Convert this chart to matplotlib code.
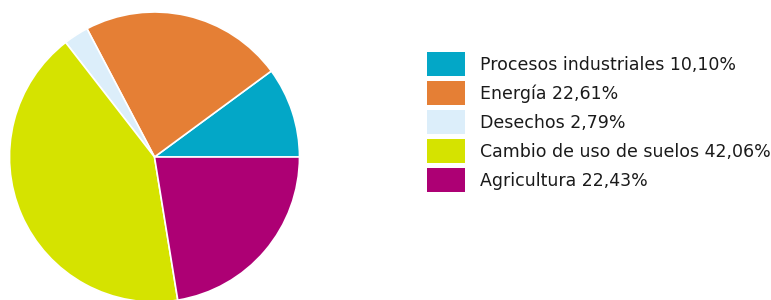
import matplotlib.pyplot as plt
from matplotlib.patches import Patch

# data
labels = ["Procesos industriales", "Energía", "Desechos",
          "Cambio de uso de suelos", "Agricultura"]
shares = [10.10, 22.61, 2.79, 42.06, 22.43]
colors = ["#03A7C7", "#E57F35", "#DCEEFA", "#D5E300", "#AD0074"]

W, H = 771, 300
fig = plt.figure(figsize=(W / 100, H / 100), dpi=100)

# pie axes: centre (154.5, 157) from top-left, radius 145 px
cx, cy, r = 154.5, 157, 145
ax = fig.add_axes([(cx - r) / W, (H - cy - r) / H, 2 * r / W, 2 * r / H])
ax.pie(shares, colors=colors, startangle=0, counterclock=True,
       wedgeprops=dict(edgecolor="white", linewidth=1.2), radius=1)
ax.set_xlim(-1, 1)
ax.set_ylim(-1, 1)
ax.set_aspect("equal")
ax.axis("off")

fs = 12.5
px = fs * 100 / 72
# legend patch height = fs*h - 0.35*fs*(h-0.7); solve for 24 px
hh = (24 / px - 0.245) / 0.65
handles = [Patch(facecolor=c, edgecolor="none") for c in colors]
leg_labels = [f"{l} {v:.2f}%".replace(".", ",") for l, v in zip(labels, shares)]
fig.legend(handles, leg_labels, loc="upper left",
           bbox_to_anchor=(427 / W, 1 - 52 / H), frameon=False,
           fontsize=fs, handlelength=38 / px, handleheight=hh,
           handletextpad=15 / px, labelspacing=5 / px, borderpad=0,
           borderaxespad=0, labelcolor="#1a1a1a")

fig.savefig("out.png", dpi=100)
